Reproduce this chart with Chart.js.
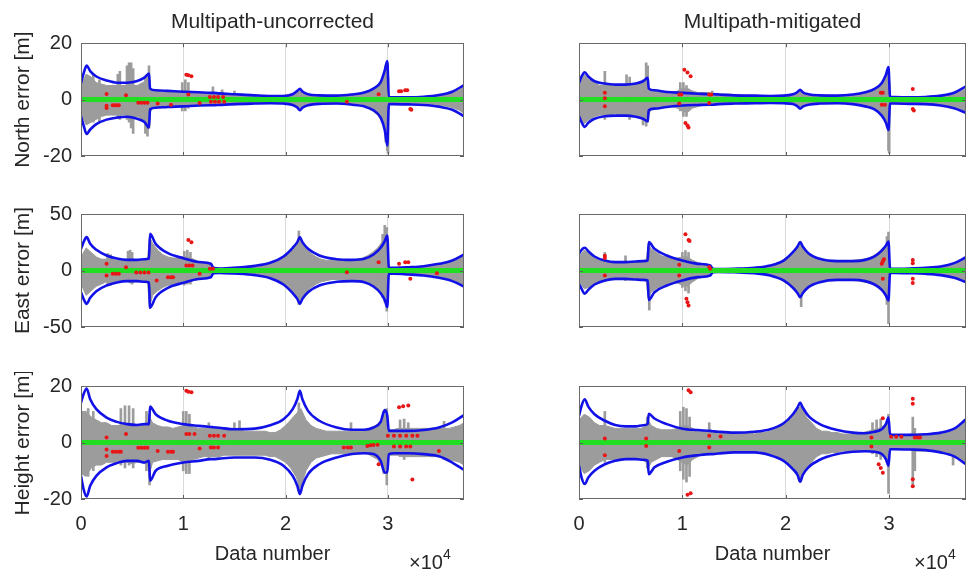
<!DOCTYPE html>
<html><head><meta charset="utf-8">
<script src="https://cdn.jsdelivr.net/npm/chart.js@4.4.1/dist/chart.umd.min.js"></script>
<style>
html,body{margin:0;padding:0;background:#fff;}
#wrap{position:relative;width:970px;height:571px;overflow:hidden;background:#fff;}
canvas{position:absolute;}
.exp{position:absolute;font-family:"Liberation Sans",Arial,sans-serif;font-size:20px;line-height:20px;color:#262626;white-space:nowrap;}
.exp sup{font-size:14px;vertical-align:0;position:relative;top:-10px;}
</style></head><body>
<div id="wrap">
<canvas id="c0"></canvas><canvas id="c1"></canvas>
<canvas id="c2"></canvas><canvas id="c3"></canvas>
<canvas id="c4"></canvas><canvas id="c5"></canvas>
<div class="exp" style="left:409px;top:552px">×10<sup>4</sup></div>
<div class="exp" style="left:914px;top:552px">×10<sup>4</sup></div>
</div>
<script>
// ---------- axes / ticks ----------
const xRange = [0, 37450];
const xTicks = [0, 10000, 20000, 30000];
const yTicksNorth = [-20, 0, 20];
const yTicksEast = [-50, 0, 50];
const yTicksHeight = [-20, 0, 20];
const zeroX = [0, 37450];
const zeroY = [0, 0];

// ---------- blue envelope ----------
const envX = [0,250,550,900,1500,2500,3500,4500,5500,6200,6650,6750,7300,8500,10000,11500,12700,12950,13500,15000,17000,18500,19800,20700,21150,21400,21650,22200,23300,25000,26500,27700,28600,29300,29700,29950,30100,30600,32000,33500,35000,36300,37450];

const nUncHi = [5.9,9.2,12.1,10.1,8.2,6.8,6.0,6.0,6.6,7.8,9.2,3.9,3.3,3.1,2.8,2.6,2.4,2.4,2.2,1.9,1.5,1.3,1.3,1.9,3.1,3.8,2.9,1.9,1.5,1.4,1.8,2.5,3.9,6.2,10.4,13.7,0.9,0.8,0.8,1.0,1.6,2.8,5.1];
const nUncLo = [-5.9,-9.1,-12.2,-10.6,-8.7,-7.1,-6.4,-6.1,-6.8,-7.9,-9.9,-3.4,-2.9,-2.6,-2.4,-2.1,-2.0,-2.0,-1.9,-1.6,-1.4,-1.3,-1.4,-1.9,-2.8,-3.8,-2.9,-2.0,-1.5,-1.4,-1.8,-2.4,-3.8,-6.4,-10.8,-16.3,-1.6,-1.6,-1.7,-1.9,-2.5,-3.6,-5.9];
const nMitHi = [5.9,8.2,9.7,8.2,6.5,5.7,5.3,5.3,5.7,6.5,7.7,3.9,3.3,2.7,2.4,2.1,1.9,1.9,1.8,1.5,1.4,1.3,1.4,1.9,2.7,3.5,2.6,1.9,1.5,1.4,1.8,2.6,3.8,5.9,8.8,11.5,0.9,0.9,0.8,0.9,1.4,2.4,4.7];
const nMitLo = [-5.9,-8.0,-9.7,-8.2,-6.8,-5.9,-5.7,-5.7,-6.1,-6.8,-7.7,-3.8,-3.2,-2.6,-2.1,-1.9,-1.8,-1.8,-1.6,-1.4,-1.3,-1.2,-1.3,-1.6,-2.4,-3.2,-2.5,-1.8,-1.4,-1.3,-1.6,-2.4,-3.5,-5.7,-8.2,-10.8,-1.4,-1.4,-1.5,-1.6,-2.1,-3.1,-4.7];
const eUncHi = [19.2,25.1,29.5,23.6,18.3,13.3,10.6,9.4,9.4,10.0,10.6,32.4,23.6,15.3,10.9,7.5,6.0,2.4,1.8,2.4,4.1,6.8,12.4,20.1,25.1,29.5,25.1,19.2,13.3,10.0,9.4,10.3,14.2,20.1,26.0,31.0,2.4,2.4,2.9,3.8,5.9,8.8,14.2];
const eUncLo = [-19.2,-25.1,-29.5,-24.2,-18.3,-13.3,-10.6,-9.4,-9.4,-10.0,-10.6,-33.0,-23.6,-15.3,-10.9,-7.5,-6.0,-2.4,-2.1,-2.7,-4.1,-6.8,-12.4,-20.1,-25.1,-29.5,-25.1,-19.2,-13.3,-10.0,-9.4,-10.3,-14.2,-20.1,-26.0,-32.4,-2.9,-2.9,-3.5,-4.4,-6.5,-9.4,-14.2];
const eMitHi = [14.7,18.3,20.1,17.1,12.4,8.8,7.4,7.4,8.0,8.3,8.8,25.1,19.2,13.3,8.8,5.9,4.4,1.5,1.2,1.5,2.4,4.4,8.8,16.2,21.2,25.1,21.2,15.3,10.3,8.3,8.3,9.4,12.4,17.7,22.1,25.7,1.5,1.5,1.8,2.4,3.5,6.5,11.8];
const eMitLo = [-12.0,-16.2,-20.6,-17.1,-12.4,-8.8,-7.4,-7.4,-8.0,-8.3,-8.8,-26.0,-19.2,-13.3,-8.8,-5.9,-4.4,-1.5,-1.2,-1.5,-2.4,-4.4,-8.8,-15.3,-20.1,-23.6,-20.1,-14.7,-10.3,-8.3,-8.3,-9.4,-12.4,-17.1,-22.1,-26.5,-2.1,-2.1,-2.4,-2.9,-4.1,-6.5,-10.3];
const hUncHi = [14.1,17.1,19.1,15.3,11.8,8.8,7.3,6.5,6.2,6.5,6.5,12.7,10.0,7.7,6.5,5.9,5.5,5.4,5.2,4.7,4.9,6.1,8.2,11.8,15.3,18.3,15.3,11.2,7.7,5.3,4.5,4.5,5.3,7.3,11.5,9.4,4.1,4.1,4.1,4.4,5.3,7.1,9.7];
const hUncLo = [-11.8,-16.5,-19.1,-15.3,-11.8,-8.8,-7.3,-6.5,-6.5,-7.1,-6.5,-13.5,-10.0,-8.2,-7.1,-6.5,-5.9,-5.9,-5.7,-5.3,-5.3,-6.1,-8.2,-11.8,-15.3,-18.3,-15.3,-11.2,-7.7,-5.3,-4.1,-3.8,-4.1,-6.5,-10.6,-10.6,-4.1,-3.8,-3.8,-4.1,-4.9,-7.1,-9.7];
const hMitHi = [9.4,13.0,15.3,12.7,10.0,7.7,6.2,5.7,5.7,6.1,6.6,10.2,8.5,6.5,4.9,4.4,4.1,4.0,3.8,3.5,3.8,4.7,6.8,10.0,12.4,14.1,12.4,9.4,6.5,4.4,3.5,3.3,3.8,4.7,6.5,8.8,2.9,2.7,2.7,2.9,3.5,4.9,8.2];
const hMitLo = [-8.2,-12.4,-14.7,-12.4,-10.0,-7.7,-6.5,-5.9,-5.9,-6.1,-6.5,-11.2,-8.8,-6.8,-5.3,-4.5,-4.1,-4.1,-3.9,-3.5,-3.5,-4.5,-6.5,-9.4,-11.5,-13.9,-11.5,-8.8,-6.1,-4.1,-3.3,-3.1,-3.3,-4.1,-5.9,-8.2,-2.4,-2.4,-2.5,-2.7,-3.5,-4.9,-7.7];

// ---------- gray error cloud: main band ----------
const grayX = [0,500,1000,1500,2000,2500,3000,3500,4000,4500,5000,5500,6000,6500,6700,7000,7500,8000,8500,9000,9500,10000,10500,11000,11500,12000,12500,13000,13500,14000,14500,15000,15500,16000,16500,17000,17500,18000,18500,19000,19500,20000,20500,21000,21500,22000,22500,23000,23500,24000,24500,25000,25500,26000,26500,27000,27500,28000,28500,29000,29500,29900,30100,30500,31000,31500,32000,32500,33000,33500,34000,34500,35000,35500,36000,36500,37000,37450];

const gNUncHi = [5,9,8,6,5.5,5,5,5,5,5,5,5,6,7,5, 3,3,2.5,2.5,2.5,2.5,3,3,2.5,2.5, 2.5,2.5,2.5,2.5,2.2,2.2,2,2,1.8,1.8, 1.6,1.5,1.5,1.4,1.4,1.4,1.6,2,2.5,3, 2,1.8,1.5,1.5,1.5,1.5,1.5,1.6,1.8,2, 2.2,2.5,3,4,5,7.5, 11,0.9, 0.9,0.9,0.9,0.9,1,1,1.1,1.2,1.3,1.5,1.8,2.2,2.8,3.5, 4.5];
const gNUncLo = [-5,-9,-8,-7,-6,-5.5,-5.5,-5.5,-5.5,-5.5,-6,-6,-7,-8,-5, -3,-2.8,-2.5,-2.5,-2.3,-2.5,-2.5,-2.5,-2.3,-2.2, -2,-2,-2,-1.9,-1.8,-1.7,-1.6,-1.5,-1.4,-1.4, -1.3,-1.2,-1.2,-1.2,-1.2,-1.3,-1.5,-1.8,-2.4,-3, -2,-1.6,-1.5,-1.4,-1.4,-1.4,-1.4,-1.5,-1.6,-1.8, -2,-2.3,-3,-4,-5.5,-8, -13,-1.4, -1.4,-1.4,-1.5,-1.5,-1.5,-1.5,-1.5,-1.6,-1.8,-2,-2.2,-2.6,-3.1,-3.8, -5];
const gNMitHi = [5,9,7,6,5,5,5,5,5,5.5,5.5,5.5,6,7,5, 3,3,2.5,2.5,2.5,3,4,4,3,2.5, 2.5,2.5,2.2,2.2,2,2,1.8,1.8,1.6,1.5, 1.5,1.5,1.4,1.3,1.3,1.4,1.5,1.8,2.2,3, 2,1.6,1.5,1.5,1.6,1.5,1.5,1.6,1.7,1.8, 2,2.3,3,3.5,5,7, 10,0.8, 0.8,0.8,0.9,1,1,1,1,1.1,1.2,1.3,1.5,1.8,2.3,3, 4];
const gNMitLo = [-5,-8.5,-7,-6,-5.5,-5.5,-5.5,-5,-5.5,-5.5,-6,-6,-6.5,-7.5,-6, -3,-3,-2.5,-2.5,-2.5,-3,-4,-4.5,-3,-2.5, -2,-2,-1.9,-1.8,-1.7,-1.5,-1.5,-1.4,-1.3,-1.3, -1.2,-1.2,-1.2,-1.2,-1.2,-1.2,-1.3,-1.5,-2,-2.8, -1.8,-1.5,-1.4,-1.3,-1.3,-1.3,-1.3,-1.4,-1.5,-1.6, -1.8,-2,-2.5,-3,-4.5,-6, -10,-1.3, -1.3,-1.4,-1.4,-1.5,-1.5,-1.5,-1.5,-1.6,-1.7,-1.9,-2.1,-2.4,-2.9,-3.5, -4.5];
const gEUncHi = [12,20,16,12,10,10,10,9,9,9.5,9.5,9,9.5,10,30, 24,18,14,12,11,11,12,12,10,8, 7,6,2.5,2,2,2.5,3,3,3.5,4, 4.5,5,6,7,9,11,14,18,22,28, 20,15,12,10,9,9,9,9,9,9.5, 10,11,13,16,20,26, 34,2.5, 2.5,3,3,3,3.5,3.5,4,4.5,5,6,7,8,10,12, 14];
const gEUncLo = [-12,-22,-18,-14,-12,-10,-11,-10,-9,-9.5,-10,-10,-10,-10,-33, -22,-18,-15,-13,-12,-11,-11,-10,-9,-8, -7,-6,-2.5,-2,-2,-2.5,-3,-3,-3,-3.5, -4,-5,-6,-7,-9,-11,-14,-18,-22,-27, -20,-15,-12,-10,-9,-8,-8,-8,-8,-8, -9,-9,-11,-13,-17,-22, -32,-3, -2.5,-3,-3,-3.5,-3.5,-4,-4,-5,-5,-6,-7,-8,-10,-12, -14];
const gEMitHi = [12,18,15,11,9,9,8,7,7,7.5,7.5,8,8,9,24, 19,16,13,12,11,11,12,12,9,7, 6,5,1.5,1.2,1.3,1.4,1.5,1.7,2,2.2, 2.5,3,3.5,4.5,6,8,11,14,19,23, 16,13,11,9,8,8,8,8,8.5,9, 9.5,10,11,13,16,20, 24,1.5, 1.5,1.6,1.7,1.8,2,2.2,2.5,2.8,3,3.5,4,5,6,8, 11];
const gEMitLo = [-10,-16,-15,-12,-10,-9,-8,-8,-8,-8,-8.5,-8,-8.5,-9,-25, -19,-16,-14,-12,-11,-11,-13,-14,-10,-7, -6,-5,-1.5,-1.2,-1.3,-1.4,-1.5,-1.7,-2,-2.2, -2.5,-3,-3.5,-4.5,-6,-8,-11,-14,-18,-22, -15,-12,-10,-9,-8,-8,-8,-8,-8,-8, -9,-10,-11,-12,-15,-20, -25,-2, -2,-2,-2.2,-2.2,-2.5,-2.7,-3,-3.3,-3.6,-4,-4.5,-5,-6,-8, -10];
const gHUncHi = [11,11,9,8,7,7,6,6,6,6.5,6.5,6,6.5,7,9, 7,6,5.5,5.5,5,5.5,6,6,5.5,5, 5,5,5,5,5,4.5,4.5,4.5,4,4, 4,4,4,3.5,3.5,4.5,6,8,10,12, 8,6,5,4.5,4,4,4,4,4,4, 4,4,4.5,5.5,6.5,8.5, 10,4.5, 4.5,5,5,5,5,5,5,5,5,5,5,5,5.5,6, 7];
const gHUncLo = [-11,-12,-9,-8,-8,-7,-7,-7,-7,-7,-7.5,-7,-7,-8,-11, -7,-6.5,-6,-6,-6,-6,-7,-7,-6,-5.5, -5,-5,-5,-5,-4.5,-4.5,-4.5,-4.5,-4.5,-4.5, -4.5,-4.5,-4.5,-5,-5,-6,-7,-9,-12,-16, -10,-7,-5.5,-5,-4.5,-4,-4,-4,-4,-3.8, -3.8,-3.8,-4,-5,-6,-9, -10,-4.5, -4.5,-4.5,-5,-5,-5,-5,-5,-5,-5,-5,-5.5,-6,-6.5,-7, -8];
const gHMitHi = [8,10,9,7,6,6,5.5,5,5,5,5,5,5,6,8, 6,5,4.5,4.5,4.5,5,6,6,5,4, 4,4,4,3.5,3.5,3.5,3.5,3.5,3.5,3.5, 3,3.5,3.5,4,5,6,7,9,11,13, 9,7,5,4,4,3.5,3.5,3,3,3, 3,3.5,4,4.5,5,6, 8,2.5, 2.5,2.5,2.5,3,3,3,3,3,3,3.3,3.5,4,5,6, 8];
const gHMitLo = [-8,-11,-10,-8,-7,-6,-6,-6,-6,-6,-6,-6,-6,-7,-9, -7,-6,-5,-5,-5,-6,-7,-8,-6,-5, -4,-4,-4,-3.5,-3.5,-3.5,-3.5,-3,-3,-3, -3,-3,-3.5,-4,-5,-6,-7,-9,-11,-13, -9,-7,-5,-4,-4,-3.5,-3.5,-3,-3,-3, -3,-3,-3,-3.5,-4,-5, -8,-2.5, -2.5,-2.5,-2.5,-2.5,-3,-3,-3,-3,-3,-3.3,-3.5,-4,-5,-6, -7.5];

// ---------- gray error cloud: narrow spikes (x, low, high) ----------
const sNUncX = [1200,1800,3600,3800,4500,4700,4900,5100,6300,6500,6650,9900,10200,10500,12900,13800,15000,29800,29950,30020];
const sNUncLo = [-8,-8,-6,-7,-7,-8,-10,-12,-12,-13,-10,-4,-4,-3,-2,-2,-2,-15,-18,-19];
const sNUncHi = [9,7,9,10,12,13,13,11,8,9,12,6,7,6,4.5,3.5,3,12,13,8];
const sNMitX = [2500,4600,4900,6200,6500,6650,9800,10100,10400,12900,29950,30020];
const sNMitLo = [-7,-6,-7,-9,-9.4,-8,-4,-6,-6,-2,-18,-19];
const sNMitHi = [10,8.8,8,7,13,12,6,6,5,3,11,6];
const sEUncX = [2600,2900,4600,4800,5000,10100,10400,10700,21300,29500,29700,29900];
const sEUncLo = [-12,-13,-10,-11,-12,-13,-12,-12,-30,-24,-28,-36];
const sEUncHi = [15,14,17,18,16,17,18,16,35,32,40,38];
const sEMitX = [2500,4500,6800,10000,10300,10600,21500,29800,29950];
const sEMitLo = [-10,-9,-35,-15,-18,-20,-32,-30,-47];
const sEMitHi = [16,13,20,16,17.7,16,24,30,34];
const sHUncX = [700,1200,3900,4300,4700,5100,6400,6700,10000,10300,10600,12500,15000,15500,21300,26400,29600,29900,31200,31600,32000,35500];
const sHUncLo = [-12,-10,-8,-9,-8,-9,-10,-15,-10,-11,-11,-6,-4,-4,-17,-4,-11,-15,-5,-6,-5,-6];
const sHUncHi = [12,11,12,13,13,12,11,10,11,11,10,7,7,7.7,14,7,11,12,8,8.3,7,7.5];
const sHMitX = [2500,6600,9800,10100,10400,10700,12600,28400,28800,29200,29950,32300,32500,36200];
const sHMitLo = [-7,-9,-10,-13,-14,-12,-4,-4,-5,-6,-18,-15.5,-10,-8];
const sHMitHi = [11,9,11,12.5,12,9,7,7,8,8.3,10,9,5,5];

// ---------- red points ----------
const rNUncX = [2500,2500,2500,3100,3300,3500,3700,4400,5600,5900,6200,6500,7500,8800,10300,10500,10800,10500,11600,12600,13000,13400,13900,12700,13100,13500,14000,26000,29100,31100,31300,31700,31900,32200,32300];
const rNUncY = [2.0,-3.0,-2.2,-2.0,-2.0,-2.0,-2.0,1.5,-1.1,-1.1,-1.1,-1.1,-1.4,-1.8,8.8,8.6,8.3,1.8,-1.2,0.9,0.9,0.9,0.9,-0.8,-0.8,-0.8,-0.8,-0.8,1.9,3.0,3.0,3.3,3.3,-3.3,-3.6];
const rNMitX = [2500,2500,2500,9700,9700,9900,10200,10500,10800,10300,10500,10600,12600,12600,12800,29200,29400,29300,29600,32300,32300,32400];
const rNMitY = [2.4,-2.4,0.5,1.8,-1.4,1.8,10.6,9.6,8.3,-8.3,-9.2,-9.9,1.8,-1.2,1.8,2.4,2.4,-1.8,-1.8,3.8,-3.3,-3.9];
const rEUncX = [2500,2500,3100,3400,3700,4400,5400,5800,6200,6600,7400,8500,8800,9000,10500,10800,10300,10600,10900,11600,12600,12900,26000,29100,31100,31700,32000,32200,34800];
const rEUncY = [5.9,-4.4,-2.9,-2.9,-2.9,2.9,-1.8,-1.8,-1.8,-1.8,-8.8,-5.9,-5.9,-5.9,27,25,4.4,4.4,4.4,-2.9,1.5,1.5,-1.5,7.4,5.9,7.4,7.4,-7.4,-2.4];
const rEMitX = [2500,2500,2500,9700,9700,10300,10600,10700,10400,10500,10600,12600,12700,29300,29400,29500,29400,32300,32300,32300,32300];
const rEMitY = [11,13,-4.4,5,-4.4,32,27,26,-25,-28,-31,3,1.5,6,8,10,-7.4,6.5,9.4,-7.4,-11];
const rHUncX = [2500,2500,2500,3100,3400,3700,3900,4400,5600,5900,6200,6500,7500,8500,8800,9000,10300,10500,10800,10300,10600,11100,11600,12600,13000,13400,14000,12700,13000,13400,25700,26100,26400,28000,28300,28600,29000,29100,30000,30600,31200,31800,32400,32900,30600,31200,31800,32200,31100,31500,32000,32400,35000];
const rHUncY = [1.8,-2.5,-4.8,-3.3,-3.3,-3.3,-3.3,3.0,-1.9,-1.9,-1.9,-1.9,-3.0,-3.3,-3.3,-3.3,18.3,18.0,17.8,3.0,3.0,3.0,-2.1,2.4,2.4,2.4,2.4,-1.8,-1.8,-1.8,-1.8,-1.8,-1.8,-1.2,-1.0,-0.9,-0.8,-7.7,2.4,2.4,2.4,2.4,2.4,2.4,-1.4,-1.4,-1.4,-1.4,12.5,12.8,13.1,-13.1,-3.0];
const rHMitX = [2500,2500,6500,6500,9700,10600,10800,10500,10800,12600,12600,13700,28300,28300,29000,29200,29400,29400,30200,30700,31200,32300,32300,32500,32800,33000,32300,32300];
const rHMitY = [1.4,-4.5,1.4,-1.2,-3.0,18.5,17.8,-18.5,-18.0,2.4,-1.8,2.1,1.8,-1.4,-7.7,-9,-10.7,8.6,2.0,2.0,2.0,15.5,13.7,1.8,1.8,1.8,-13,-15.5];

// ---------- styling ----------
const FONT = "'Liberation Sans', Arial, Helvetica, sans-serif";
const TXT = '#262626';
const GRAY = 'rgb(156,156,156)';
const BLUE = 'rgb(18,18,232)';
const GREEN = 'rgb(34,222,34)';
const RED = 'rgb(232,22,22)';

const framePlugin = {
  id: 'frame',
  afterDraw(chart) {
    const {ctx, chartArea: a, scales} = chart;
    ctx.save();
    ctx.strokeStyle = '#5f5f5f';
    ctx.lineWidth = 1;
    ctx.beginPath();
    scales.x.ticks.forEach(t => {
      const px = Math.round(scales.x.getPixelForValue(t.value)) + 0.5;
      ctx.moveTo(px, a.bottom); ctx.lineTo(px, a.bottom - 4);
      ctx.moveTo(px, a.top); ctx.lineTo(px, a.top + 4);
    });
    scales.y.ticks.forEach(t => {
      const py = Math.round(scales.y.getPixelForValue(t.value)) + 0.5;
      ctx.moveTo(a.left, py); ctx.lineTo(a.left + 4, py);
      ctx.moveTo(a.right, py); ctx.lineTo(a.right - 4, py);
    });
    ctx.stroke();
    ctx.strokeStyle = '#6a6a6a';
    ctx.strokeRect(Math.round(a.left) + 0.5, Math.round(a.top) + 0.5, Math.round(a.right - a.left) - 1, Math.round(a.bottom - a.top) - 1);
    ctx.restore();
  }
};

const pts = (xs, ys) => xs.map((x, i) => ({x: x, y: ys[i]}));
const bars = (xs, lo, hi) => xs.map((x, i) => ({x: x, y: [lo[i], hi[i]]}));

function makePanel(p) {
  const cv = document.getElementById(p.id);
  cv.width = p.cw; cv.height = p.ch;
  cv.style.left = p.cx + 'px'; cv.style.top = p.cy + 'px';
  cv.style.width = p.cw + 'px'; cv.style.height = p.ch + 'px';
  const datasets = [
    {type: 'line', data: pts(grayX, p.gHi), borderColor: GRAY, backgroundColor: GRAY, borderWidth: 1, fill: '+1', pointRadius: 0, tension: 0, order: 4},
    {type: 'line', data: pts(grayX, p.gLo), borderColor: GRAY, backgroundColor: GRAY, borderWidth: 1, fill: false, pointRadius: 0, tension: 0, order: 4},
    {type: 'bar', data: bars(p.sX, p.sLo, p.sHi), backgroundColor: GRAY, borderWidth: 0, barThickness: 2, order: 3},
    {type: 'line', data: pts(envX, p.bHi), borderColor: BLUE, borderWidth: 2.6, fill: false, pointRadius: 0, cubicInterpolationMode: 'monotone', order: 2},
    {type: 'line', data: pts(envX, p.bLo), borderColor: BLUE, borderWidth: 2.6, fill: false, pointRadius: 0, cubicInterpolationMode: 'monotone', order: 2},
    {type: 'line', data: pts(zeroX, zeroY), borderColor: GREEN, borderWidth: 5, fill: false, pointRadius: 0, order: 1},
    {type: 'line', data: pts(p.rX, p.rY), showLine: false, pointRadius: 2, pointBorderWidth: 0, pointBackgroundColor: RED, pointBorderColor: RED, order: 0}
  ];
  new Chart(cv, {
    type: 'line',
    data: {datasets: datasets},
    plugins: [framePlugin],
    options: {
      responsive: false, animation: false, devicePixelRatio: 1, events: [],
      layout: {padding: {top: p.padTop, right: p.padRight, left: 0, bottom: 0}},
      plugins: {
        legend: {display: false}, tooltip: {enabled: false},
        title: {display: !!p.title, text: p.title || '', fullSize: false, color: TXT,
                font: {family: FONT, size: 21, weight: 'normal'}, padding: {top: 10, bottom: 8}}
      },
      scales: {
        x: {
          type: 'linear', min: xRange[0], max: xRange[1], offset: false,
          afterBuildTicks: s => { s.ticks = xTicks.map(v => ({value: v})); },
          afterFit: s => { s.height = p.xh; s.paddingLeft = 0; s.paddingRight = 0; },
          grid: {display: true, offset: false, color: '#dadada', lineWidth: 1, drawTicks: false},
          border: {display: false},
          ticks: {display: p.xLabels, padding: 13, color: TXT, maxRotation: 0,
                  font: {family: FONT, size: 20}, callback: v => String(v / 10000)},
          title: {display: p.xLabels, text: 'Data number', color: TXT,
                  font: {family: FONT, size: 20}, padding: {top: 0, bottom: 5}}
        },
        y: {
          type: 'linear', min: p.yTicks[0], max: p.yTicks[p.yTicks.length - 1],
          afterBuildTicks: s => { s.ticks = p.yTicks.map(v => ({value: v})); },
          afterFit: s => { s.width = p.yw; s.paddingTop = 0; s.paddingBottom = 0; },
          grid: {display: false, drawTicks: false},
          border: {display: false},
          ticks: {display: p.yLabels, padding: 9, color: TXT,
                  font: {family: FONT, size: 20}, callback: v => String(v)},
          title: {display: p.yLabels, text: p.ytitle || '', color: TXT,
                  font: {family: FONT, size: 21}, padding: {top: 11, bottom: 0}}
        }
      }
    }
  });
}

const L = {cx: 0, cw: 470, yw: 81, padRight: 6, yLabels: true};
const R = {cx: 573, cw: 397, yw: 6, padRight: 1, yLabels: false};
const ROW1 = {cy: 0, ch: 172, padTop: 0, xh: 16, xLabels: false};
const ROW2 = {cy: 200, ch: 143, padTop: 14, xh: 16, xLabels: false};
const ROW3 = {cy: 372, ch: 199, padTop: 14, xh: 72, xLabels: true};

makePanel(Object.assign({id: 'c0', title: 'Multipath-uncorrected', ytitle: 'North error [m]', yTicks: yTicksNorth,
  bHi: nUncHi, bLo: nUncLo, gHi: gNUncHi, gLo: gNUncLo, sX: sNUncX, sLo: sNUncLo, sHi: sNUncHi, rX: rNUncX, rY: rNUncY}, L, ROW1));
makePanel(Object.assign({id: 'c1', title: 'Multipath-mitigated', yTicks: yTicksNorth,
  bHi: nMitHi, bLo: nMitLo, gHi: gNMitHi, gLo: gNMitLo, sX: sNMitX, sLo: sNMitLo, sHi: sNMitHi, rX: rNMitX, rY: rNMitY}, R, ROW1));
makePanel(Object.assign({id: 'c2', ytitle: 'East error [m]', yTicks: yTicksEast,
  bHi: eUncHi, bLo: eUncLo, gHi: gEUncHi, gLo: gEUncLo, sX: sEUncX, sLo: sEUncLo, sHi: sEUncHi, rX: rEUncX, rY: rEUncY}, L, ROW2));
makePanel(Object.assign({id: 'c3', yTicks: yTicksEast,
  bHi: eMitHi, bLo: eMitLo, gHi: gEMitHi, gLo: gEMitLo, sX: sEMitX, sLo: sEMitLo, sHi: sEMitHi, rX: rEMitX, rY: rEMitY}, R, ROW2));
makePanel(Object.assign({id: 'c4', ytitle: 'Height error [m]', yTicks: yTicksHeight,
  bHi: hUncHi, bLo: hUncLo, gHi: gHUncHi, gLo: gHUncLo, sX: sHUncX, sLo: sHUncLo, sHi: sHUncHi, rX: rHUncX, rY: rHUncY}, L, ROW3));
makePanel(Object.assign({id: 'c5', yTicks: yTicksHeight,
  bHi: hMitHi, bLo: hMitLo, gHi: gHMitHi, gLo: gHMitLo, sX: sHMitX, sLo: sHMitLo, sHi: sHMitHi, rX: rHMitX, rY: rHMitY}, R, ROW3));
</script>
</body></html>
